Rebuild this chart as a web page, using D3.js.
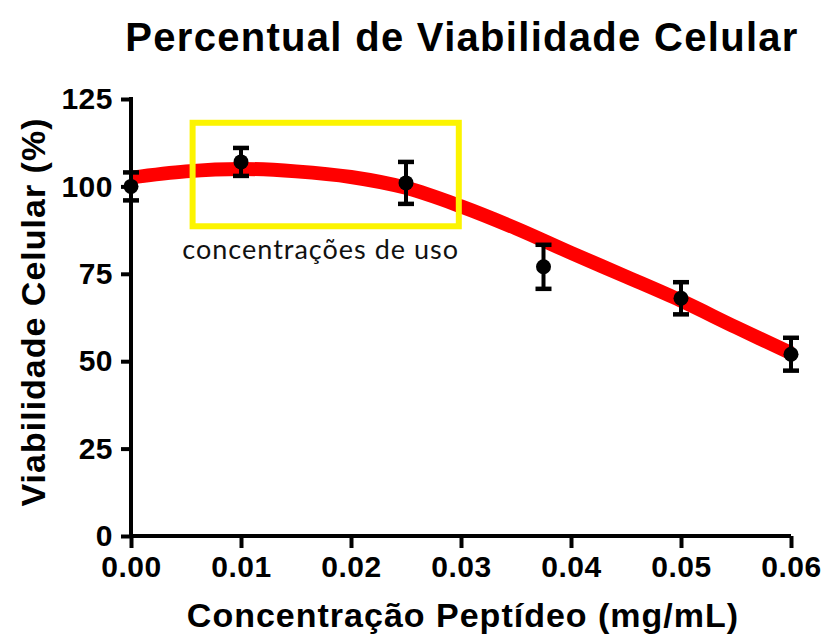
<!DOCTYPE html>
<html>
<head>
<meta charset="utf-8">
<script src="https://d3js.org/d3.v7.min.js"></script>
<style>
  body { margin: 0; background: #fff; }
  svg text { font-family: Arial, Helvetica, "Liberation Sans", sans-serif; }
</style>
</head>
<body>
<div id="chart"></div>
<script>
// measured points (concentration mg/mL, viability %, error)
var conc = [0, 0.01, 0.025, 0.0375, 0.05, 0.06],
    viab = [100, 107, 101, 77, 68, 52],
    err  = [4, 4, 6, 6.3, 4.6, 4.7];

// fitted curve
var fitX = [0, 0.005, 0.01, 0.015, 0.02, 0.025, 0.03, 0.035, 0.04, 0.045, 0.05, 0.055, 0.06],
    fitY = [102.5, 104.3, 105, 104.3, 102.7, 99.6, 94.3, 88, 81, 74.2, 67.3, 59.7, 52.3];

var xTicks = [0, 0.01, 0.02, 0.03, 0.04, 0.05, 0.06],
    yTicks = [0, 25, 50, 75, 100, 125];

// highlight box, in data units
var boxX = [0.0056, 0.0298],
    boxY = [88.6, 118.2],
    boxLabel = "concentrações de uso";

var width = 824, height = 640;
var margin = {top: 99, right: 33, bottom: 104, left: 131};

var svg = d3.select("#chart").append("svg")
    .attr("width", width)
    .attr("height", height);

var x = d3.scaleLinear().domain([0, 0.06]).range([margin.left, width - margin.right]);
var y = d3.scaleLinear().domain([0, 125]).range([height - margin.bottom, margin.top]);

// title
svg.append("text")
    .attr("x", 462).attr("y", 51)
    .attr("text-anchor", "middle")
    .style("font-size", "40px").style("font-weight", "bold")
    .style("letter-spacing", "1.3px")
    .text("Percentual de Viabilidade Celular");

// fitted curve
var line = d3.line()
    .x(function(d) { return x(d[0]); })
    .y(function(d) { return y(d[1]); })
    .curve(d3.curveCatmullRom);

svg.append("path")
    .datum(d3.zip(fitX, fitY))
    .attr("d", line)
    .attr("fill", "none")
    .attr("stroke", "#ff0000")
    .attr("stroke-width", 14)
    .attr("stroke-linecap", "butt");

// highlight box
svg.append("rect")
    .attr("x", x(boxX[0]))
    .attr("y", y(boxY[1]))
    .attr("width", x(boxX[1]) - x(boxX[0]))
    .attr("height", y(boxY[0]) - y(boxY[1]))
    .attr("fill", "none")
    .attr("stroke", "#fcf400")
    .attr("stroke-width", 6);

svg.append("text")
    .attr("x", (x(boxX[0]) + x(boxX[1])) / 2 - 5)
    .attr("y", y(boxY[0]) + 33)
    .attr("text-anchor", "middle")
    .style("font-family", "Lato, 'Open Sans', sans-serif")
    .style("font-size", "27px")
    .style("letter-spacing", "1px")
    .style("fill", "#111")
    .text(boxLabel);

// axes
var xAxis = svg.append("g")
    .attr("transform", "translate(0," + y(0) + ")")
    .call(d3.axisBottom(x).tickValues(xTicks).tickSize(12).tickPadding(8).tickFormat(d3.format(".2f")));

var yAxis = svg.append("g")
    .attr("transform", "translate(" + x(0) + ",0)")
    .call(d3.axisLeft(y).tickValues(yTicks).tickSize(10).tickPadding(8));

[xAxis, yAxis].forEach(function(a) {
  a.select(".domain").remove();
  a.selectAll("line").attr("stroke", "#000").attr("stroke-width", 4);
  a.selectAll("text")
    .style("font-family", "Arial, Helvetica, 'Liberation Sans', sans-serif")
    .style("font-size", "30px").style("font-weight", "bold")
    .style("letter-spacing", "0.5px").attr("fill", "#000");
});

// axis lines drawn by hand so they're thick and meet at the origin
svg.append("line")
    .attr("x1", x(0)).attr("x2", x(0.06))
    .attr("y1", y(0)).attr("y2", y(0))
    .attr("stroke", "#000").attr("stroke-width", 4);
svg.append("line")
    .attr("x1", x(0)).attr("x2", x(0))
    .attr("y1", y(0) + 2).attr("y2", y(125) - 2)
    .attr("stroke", "#000").attr("stroke-width", 4);

// axis titles
svg.append("text")
    .attr("x", 463).attr("y", 627)
    .attr("text-anchor", "middle")
    .style("font-size", "34px").style("font-weight", "bold")
    .style("letter-spacing", "1px")
    .text("Concentração Peptídeo (mg/mL)");

svg.append("text")
    .attr("transform", "translate(45,312) rotate(-90)")
    .attr("text-anchor", "middle")
    .style("font-size", "34px").style("font-weight", "bold")
    .style("letter-spacing", "1px")
    .text("Viabilidade Celular (%)");

// error bars + points
var pts = d3.zip(conc, viab, err);
var g = svg.append("g").selectAll("g").data(pts).enter().append("g");

g.append("line")
    .attr("x1", function(d) { return x(d[0]); })
    .attr("x2", function(d) { return x(d[0]); })
    .attr("y1", function(d) { return y(d[1] - d[2]); })
    .attr("y2", function(d) { return y(d[1] + d[2]); })
    .attr("stroke", "#000").attr("stroke-width", 4);

[-1, 1].forEach(function(s) {
  g.append("line")
    .attr("x1", function(d) { return x(d[0]) - 8; })
    .attr("x2", function(d) { return x(d[0]) + 8; })
    .attr("y1", function(d) { return y(d[1] + s * d[2]); })
    .attr("y2", function(d) { return y(d[1] + s * d[2]); })
    .attr("stroke", "#000").attr("stroke-width", 4.5);
});

g.append("circle")
    .attr("cx", function(d) { return x(d[0]); })
    .attr("cy", function(d) { return y(d[1]); })
    .attr("r", 7.5)
    .attr("fill", "#000");
</script>
</body>
</html>
